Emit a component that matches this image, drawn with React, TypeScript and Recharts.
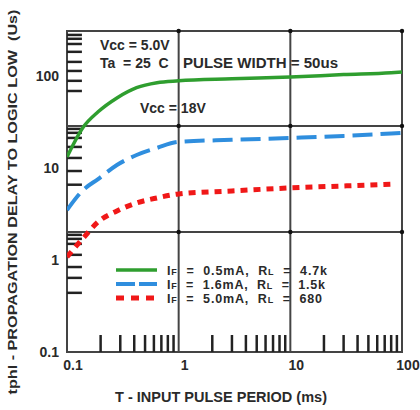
import React from "react";
import {
  LineChart,
  Line,
  XAxis,
  YAxis,
  ReferenceLine,
  ReferenceArea,
  ReferenceDot,
} from "recharts";

// input pulse period (ms)
const period = [0.1, 0.14, 0.19, 0.28, 0.42, 0.64, 1, 3, 10, 30, 80, 100];
// tphl (us) for each drive condition
const delay05 = [13.2, 28, 41, 58, 75, 85, 89, 93.5, 98, 104, 109, 111];
const delay16 = [3.5, 5.8, 7.6, 10.8, 13.9, 16.6, 19.3, 20.3, 21.3, 22.4, 23.8, 24.2];
const delay50 = [1.08, 1.74, 2.6, 3.42, 4.18, 4.74, 5.24, 5.65, 6.09, 6.4, 6.7, null];

const xTicks = [0.1, 1, 10, 100];
const yTicks = [0.1, 1, 10, 100];
const xGrid = [1, 10];
const yGrid = [2.02, 28.8];
const xMinor = [0.2, 0.3, 0.4, 0.5, 0.6, 0.7, 0.8, 0.9, 2, 3, 4, 5, 6, 7, 8, 9, 20, 30, 40, 50, 60, 70, 80, 90];
const yMinor = [281, 255, 224, 184, 143, 114, 89, 69, 26.7, 24.2, 21.3, 17, 12.9, 9.3, 6.6, 1.88, 1.7, 1.5, 1.14, 0.84, 0.64, 0.44];

const series = [
  { key: "a", ifText: "0.5mA", rlText: "4.7k", color: "#2f9e2f", dash: undefined, legendDash: undefined, width: 3.5, textLen: 160 },
  { key: "b", ifText: "1.6mA", rlText: "1.5k", color: "#2f8ede", dash: "20 8", legendDash: "19 4", width: 4, textLen: 158 },
  { key: "c", ifText: "5.0mA", rlText: "680", color: "#f01818", dash: "7 6", legendDash: "8 7", width: 5, textLen: 155 },
];

const data = period.map((p, i) => ({ p, a: delay05[i], b: delay16[i], c: delay50[i] }));

const X_MIN = 0.1;
const X_MAX = 100;
const Y_MIN = 0.1;
const Y_MAX = 310;

const font = "'Liberation Sans', Arial, sans-serif";
const ink = "#2a2a2a";

const App = () => {
  return (
    <div style={{ position: "fixed", left: 0, top: 0, width: 420, height: 410, background: "#fff" }}>
      <LineChart
        width={420}
        height={410}
        data={data}
        margin={{ top: 31, right: 18, left: 0, bottom: 28 }}
      >
        <XAxis
          dataKey="p"
          type="number"
          scale="log"
          domain={[X_MIN, X_MAX]}
          ticks={xTicks}
          allowDataOverflow
          axisLine={false}
          tickLine={false}
          height={30}
          tick={{ fill: ink, fontSize: 14, fontWeight: 700, fontFamily: font, dx: 6 }}
        />
        <YAxis
          type="number"
          scale="log"
          domain={[Y_MIN, Y_MAX]}
          ticks={yTicks}
          allowDataOverflow
          axisLine={false}
          tickLine={false}
          width={67}
          tick={{ fill: ink, fontSize: 14, fontWeight: 700, fontFamily: font }}
        />

        {/* minor ticks */}
        {yMinor.map((v) => (
          <ReferenceLine
            key={"ym" + v}
            segment={[{ x: X_MIN, y: v }, { x: 0.136, y: v }]}
            stroke="#222"
            strokeWidth={2.5}
          />
        ))}
        {xMinor.map((v) => (
          <ReferenceLine
            key={"xm" + v}
            segment={[{ x: v, y: Y_MIN }, { x: v, y: 0.153 }]}
            stroke="#222"
            strokeWidth={2.5}
          />
        ))}

        {/* grid */}
        {xGrid.map((v) => (
          <ReferenceLine key={"xg" + v} x={v} stroke="#444" strokeWidth={2} />
        ))}
        {yGrid.map((v) => (
          <ReferenceLine key={"yg" + v} y={v} stroke="#444" strokeWidth={2} />
        ))}
        <ReferenceArea
          x1={X_MIN}
          x2={X_MAX}
          y1={Y_MIN}
          y2={Y_MAX}
          fill="none"
          stroke="#444"
          strokeWidth={2}
        />
        {[...xGrid, X_MAX].map((x) =>
          [...yGrid, Y_MAX].map((y) => (
            <ReferenceDot key={x + "-" + y} x={x} y={y} r={2.2} fill="#111" stroke="none" />
          ))
        )}

        {series.map((s) => (
          <Line
            key={s.key}
            dataKey={s.key}
            type="monotone"
            stroke={s.color}
            strokeWidth={s.width}
            strokeDasharray={s.dash}
            dot={false}
            activeDot={false}
            connectNulls={false}
            isAnimationActive={false}
          />
        ))}
      </LineChart>

      {/* text annotations, titles and legend */}
      <svg
        width={420}
        height={410}
        style={{ position: "absolute", left: 0, top: 0, pointerEvents: "none" }}
        fontFamily={font}
        fontWeight={700}
        fill={ink}
      >
        <text x={100} y={50} fontSize={14}>Vcc = 5.0V</text>
        <text x={100} y={68} fontSize={14} xmlSpace="preserve">Ta  = 25  C</text>
        <text x={183} y={68} fontSize={14} textLength={155} lengthAdjust="spacingAndGlyphs">
          PULSE WIDTH  =  50us
        </text>
        <text x={140} y={113} fontSize={14}>Vcc = 18V</text>

        <text
          x={221}
          y={402}
          fontSize={14}
          textAnchor="middle"
          textLength={212}
          lengthAdjust="spacingAndGlyphs"
        >
          T - INPUT PULSE PERIOD (ms)
        </text>
        <text
          transform="translate(17,202) rotate(-90)"
          fontSize={13}
          textAnchor="middle"
          textLength={385}
          lengthAdjust="spacingAndGlyphs"
          xmlSpace="preserve"
        >
          tphl - PROPAGATION DELAY TO LOGIC LOW  (Us)
        </text>

        {series.map((s, i) => {
          const cy = 270 + i * 14;
          return (
            <g key={s.key}>
              <line
                x1={116}
                x2={157}
                y1={cy}
                y2={cy}
                stroke={s.color}
                strokeWidth={s.width}
                strokeDasharray={s.legendDash}
              />
              <text
                x={167}
                y={cy + 4.5}
                fontSize={12.5}
                textLength={s.textLen}
                lengthAdjust="spacing"
                xmlSpace="preserve"
              >
                {"I"}
                <tspan fontSize={9}>F</tspan>
                {"  =  " + s.ifText + ",  R"}
                <tspan fontSize={9}>L</tspan>
                {"  =  " + s.rlText}
              </text>
            </g>
          );
        })}
      </svg>
    </div>
  );
};

export default App;
